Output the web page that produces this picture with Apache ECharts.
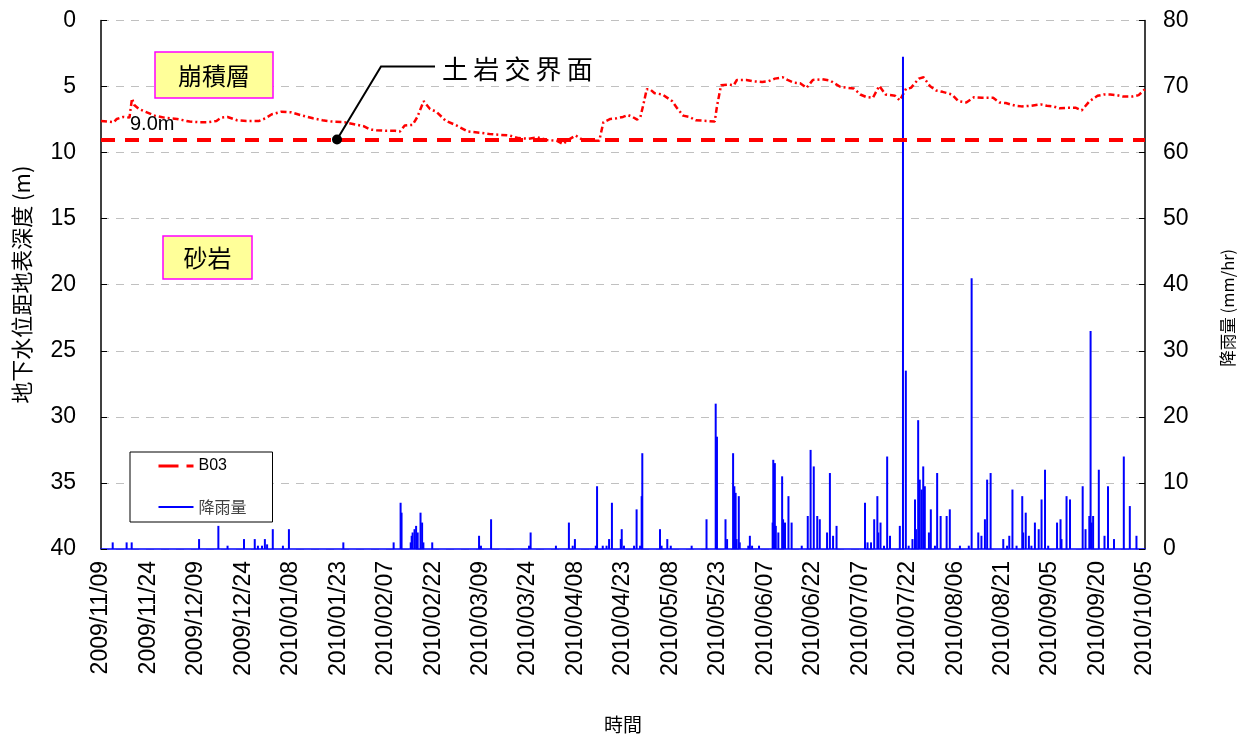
<!DOCTYPE html>
<html>
<head>
<meta charset="utf-8">
<script src="https://cdn.jsdelivr.net/npm/echarts@6/dist/echarts.min.js"></script>
<style>
html,body{margin:0;padding:0;background:#fff;}
#chart{width:1247px;height:739px;}
</style>
</head>
<body>
<div id="chart"></div>
<script>
// ---- data (x = days since 2009/11/09) ----
const startDateStr = '2009/11/09';
const xMaxDays = 330;
const xTickDays = 15;
const depthTicks = [0, 5, 10, 15, 20, 25, 30, 35, 40];
const rainTicks = [0, 10, 20, 30, 40, 50, 60, 70, 80];
const interfaceDepth = 9.0;
const calloutDay = 74.6;

const gwDay = [0,2,4,5,7,9,9.8,10.5,12,14,17,20,24,28,31,33.5,36.5,38,40,43,46,50,52,54,57,60,63,67,70,73,77,80,83,85,87,90,93,94.5,96,98.5,100,102,104,106,109,112,116,120,123,126,129,132,135,138,141,144,146,148,150,152,154,157.5,158.8,161,163,165,166.5,168,169.5,170.5,171.5,172.5,173.5,175,177.5,180.5,182,184,186,188,191.5,194,194.7,196,198,200,201,204,206,209,211,213,215.5,217,219,221,223,225,228,230.5,233.5,236,238,240,242,244,246,248,251,252.5,254.5,256,258.5,260,262,264,266,269,271,273.5,276,278.5,282,284,286,289,291,294,297,299,301,303,305.5,308,310,312.5,315,317,319,321,323,326,328,330];
const gwDepth = [7.6,7.65,7.7,7.45,7.3,7.35,5.9,6.4,6.7,6.9,7.2,7.35,7.45,7.65,7.7,7.7,7.6,7.35,7.3,7.55,7.6,7.6,7.4,7.1,6.9,6.95,7.15,7.4,7.55,7.65,7.7,7.85,8.0,8.25,8.3,8.35,8.35,8.4,7.95,7.9,7.3,6.1,6.7,6.9,7.6,7.9,8.4,8.5,8.6,8.65,8.7,8.9,8.95,8.85,9.05,9.1,9.35,9.0,8.7,9.0,9.1,9.1,7.7,7.45,7.4,7.3,7.15,7.3,7.5,7.3,6.3,5.2,5.2,5.5,5.6,6.1,6.6,7.2,7.3,7.55,7.6,7.65,6.5,4.9,4.85,4.9,4.5,4.5,4.6,4.65,4.6,4.4,4.3,4.5,4.7,4.75,5.1,4.5,4.45,4.55,5.0,5.1,5.15,5.6,5.8,5.85,4.95,5.6,5.7,6.05,5.15,5.1,4.4,4.3,4.95,5.3,5.4,5.6,6.1,6.2,5.8,5.85,5.85,6.2,6.25,6.45,6.5,6.45,6.35,6.45,6.5,6.65,6.6,6.6,6.8,6.1,5.7,5.6,5.6,5.65,5.75,5.75,5.65,5.2];

const rainDay = [3.7,8.1,9.7,31.0,37.1,40.0,45.2,48.6,49.6,50.9,51.8,52.5,54.3,57.5,59.4,76.6,92.5,94.7,95.0,97.9,98.2,98.5,99.1,99.6,100.1,101.0,101.5,101.9,104.7,119.5,120.1,123.3,135.3,135.8,143.8,147.9,149.1,149.8,156.4,156.8,158.6,159.8,160.6,161.5,164.3,164.6,165.3,168.5,169.3,170.4,170.9,171.1,176.7,177.2,179.0,180.1,186.7,191.4,194.3,194.7,197.4,197.9,199.8,200.2,200.6,200.9,201.6,201.9,204.6,205.1,205.8,208.0,212.3,212.5,213.0,213.3,214.1,215.3,215.6,216.2,217.3,218.3,221.5,223.4,224.3,225.3,226.4,227.2,229.5,230.4,231.4,232.5,241.5,242.3,243.4,244.4,245.4,245.7,246.4,247.5,248.5,249.4,252.5,253.5,254.4,255.3,256.5,257.3,257.6,258.3,258.8,259.4,259.9,260.4,261.7,262.3,263.6,264.3,265.4,267.3,268.3,271.5,274.3,275.2,277.3,278.3,279.4,280.1,281.2,285.2,286.4,287.1,288.1,289.4,291.2,291.5,292.3,293.3,294.1,295.2,296.4,297.3,298.4,299.4,302.2,303.3,303.6,305.2,306.3,310.3,311.2,312.4,312.8,313.1,313.6,315.4,317.2,318.3,320.2,323.3,325.2,327.3];
const rainValue = [1.0,1.0,1.0,1.5,3.5,0.5,1.5,1.5,0.5,0.5,1.5,0.7,3.0,0.5,3.0,1.0,1.0,7.0,5.5,1.0,2.0,2.5,3.0,3.5,2.5,5.5,4.0,1.0,1.0,2.0,0.5,4.5,0.5,2.5,0.5,4.0,0.5,1.5,0.5,9.5,0.5,0.5,1.5,7.0,1.5,3.0,0.5,0.5,6.0,0.5,8.0,14.5,3.0,0.5,1.5,0.5,0.5,4.5,22.0,17.0,4.5,1.5,14.5,9.5,8.5,1.5,8.0,1.0,0.5,2.0,0.5,0.5,4.0,13.5,13.0,3.5,2.5,11.0,4.5,4.0,8.0,4.0,0.5,5.0,15.0,12.5,5.0,4.5,2.5,11.5,2.0,3.5,7.0,1.0,1.0,4.5,8.0,2.5,4.0,0.5,14.0,2.0,3.5,74.5,27.0,0.5,1.5,7.5,3.0,19.5,10.5,9.0,12.5,9.5,2.5,6.0,0.5,11.5,5.0,5.0,6.0,0.5,0.5,41.0,2.5,2.0,4.5,10.5,11.5,1.5,0.5,2.0,9.0,0.5,8.0,2.5,5.5,2.0,0.5,4.0,3.0,7.5,12.0,0.5,4.0,4.5,1.5,8.0,7.5,9.5,3.0,5.0,33.0,4.0,5.0,12.0,2.0,9.5,1.5,14.0,6.5,2.0];

// ---- helpers ----
const [sy, sm, sd] = startDateStr.split('/').map(Number);
const startMs = Date.UTC(sy, sm - 1, sd);
function pad(n) { return (n < 10 ? '0' : '') + n; }
function fmtDay(v) {
  const d = new Date(startMs + Math.round(v) * 86400000);
  return d.getUTCFullYear() + '/' + pad(d.getUTCMonth() + 1) + '/' + pad(d.getUTCDate());
}
const gwData = gwDay.map((d, i) => [d, gwDepth[i]]);
const rainData = rainDay.map((d, i) => [d, rainValue[i]]);

const LATIN = '"Liberation Sans", Arial, sans-serif';
const CJK = '"Noto Sans CJK TC", "Noto Sans CJK SC", sans-serif';

const chart = echarts.init(document.getElementById('chart'), null, { renderer: 'canvas' });

const option = {
  backgroundColor: '#ffffff',
  animation: false,
  grid: { left: 101, right: 102, top: 20.5, bottom: 185.5, containLabel: false },
  xAxis: {
    type: 'value',
    min: 0, max: xMaxDays, interval: xTickDays,
    name: '時間', nameLocation: 'middle', nameGap: 166,
    nameTextStyle: { fontFamily: CJK, fontSize: 19, color: '#000' },
    axisLine: { onZero: false, lineStyle: { color: '#0000ff', width: 1.5 } },
    axisTick: { show: false },
    splitLine: { show: false },
    axisLabel: {
      rotate: 90, margin: 12, fontSize: 23, fontFamily: LATIN, color: '#000',
      formatter: fmtDay, showMaxLabel: true, showMinLabel: true
    }
  },
  yAxis: [
    {
      type: 'value', inverse: true,
      min: depthTicks[0], max: depthTicks[depthTicks.length - 1], interval: 5,
      name: '地下水位距地表深度 (m)', nameLocation: 'middle', nameGap: 68, nameRotate: 90,
      nameTextStyle: { fontFamily: CJK, fontSize: 22, color: '#000' },
      axisLine: { show: true, lineStyle: { color: '#000', width: 1.5 } },
      axisTick: { show: true, inside: true, length: 6, lineStyle: { color: '#000' } },
      axisLabel: { margin: 25, fontSize: 23, fontFamily: LATIN, color: '#000' },
      splitLine: { show: true, lineStyle: { color: '#c0c0c0', type: [8, 7], width: 1 } }
    },
    {
      type: 'value',
      min: rainTicks[0], max: rainTicks[rainTicks.length - 1], interval: 10,
      name: '降雨量 (mm/hr)', nameLocation: 'middle', nameGap: 74, nameRotate: 90,
      nameTextStyle: { fontFamily: CJK, fontSize: 16.5, color: '#000', padding: [0, 46, 0, 0] },
      axisLine: { show: true, lineStyle: { color: '#000', width: 1.5 } },
      axisTick: { show: true, inside: true, length: 6, lineStyle: { color: '#000' } },
      axisLabel: { margin: 18, fontSize: 23, fontFamily: LATIN, color: '#000' },
      splitLine: { show: false }
    }
  ],
  legend: {
    orient: 'vertical', left: 130, top: 452,
    padding: [6, 26, 7, 27], itemGap: 25, itemWidth: 35, itemHeight: 2,
    borderColor: '#000', borderWidth: 1, backgroundColor: '#fff',
    textStyle: { fontSize: 16, fontFamily: LATIN, color: '#000' },
    data: [
      { name: 'B03', lineStyle: { type: [20, 8], width: 3, color: '#ff0000' } },
      { name: '降雨量', icon: 'rect', textStyle: { color: '#404040', fontFamily: CJK, fontSize: 16 } }
    ]
  },
  series: [
    {
      name: 'B03', type: 'line', yAxisIndex: 0, xAxisIndex: 0,
      data: gwData, symbol: 'none', smooth: false, z: 2,
      itemStyle: { color: '#ff0000' },
      lineStyle: { color: '#ff0000', width: 2.5, type: [6, 3, 2, 3] },
      markLine: {
        silent: true, symbol: 'none',
        lineStyle: { color: '#ff0000', width: 4, type: [14, 10] },
        label: { show: false },
        data: [{ yAxis: interfaceDepth }]
      }
    },
    {
      name: '降雨量', type: 'bar', yAxisIndex: 1, xAxisIndex: 0,
      data: rainData, barWidth: 2, z: 3,
      itemStyle: { color: '#0000ff' }
    }
  ]
};
chart.setOption(option);

// ---- annotations placed via the chart's own scales ----
const dot = chart.convertToPixel({ xAxisIndex: 0, yAxisIndex: 0 }, [calloutDay, interfaceDepth]);
const lblPt = chart.convertToPixel({ xAxisIndex: 0, yAxisIndex: 0 }, [0, interfaceDepth]);
chart.setOption({
  graphic: [
    { type: 'rect', shape: { x: 155, y: 52, width: 118, height: 46 },
      style: { fill: '#ffff99', stroke: '#ff00ff', lineWidth: 1.5 }, z: 10 },
    { type: 'text', x: 214, y: 76, z: 11,
      style: { text: '崩積層', font: '24px ' + CJK, fill: '#000', align: 'center', verticalAlign: 'middle' } },
    { type: 'rect', shape: { x: 163, y: 236, width: 89, height: 43 },
      style: { fill: '#ffff99', stroke: '#ff00ff', lineWidth: 1.5 }, z: 10 },
    { type: 'text', x: 207.5, y: 258, z: 11,
      style: { text: '砂岩', font: '24px ' + CJK, fill: '#000', align: 'center', verticalAlign: 'middle' } },
    { type: 'polyline', z: 12,
      shape: { points: [[dot[0], dot[1]], [dot[0] + 44, dot[1] - 73], [dot[0] + 98, dot[1] - 73]] },
      style: { stroke: '#000', lineWidth: 2, fill: null } },
    { type: 'circle', z: 13, shape: { cx: dot[0], cy: dot[1], r: 5 }, style: { fill: '#000' } },
    { type: 'text', x: dot[0] + 105, y: dot[1] - 70, z: 12,
      style: { text: '土\u2009岩\u2009交\u2009界\u2009面', font: '26px ' + CJK, fill: '#000', align: 'left', verticalAlign: 'middle' } },
    { type: 'text', x: lblPt[0] + 29, y: lblPt[1] - 15, z: 12,
      style: { text: '9.0m', font: '20px ' + LATIN, fill: '#000', align: 'left', verticalAlign: 'middle' } }
  ]
});
</script>
</body>
</html>
